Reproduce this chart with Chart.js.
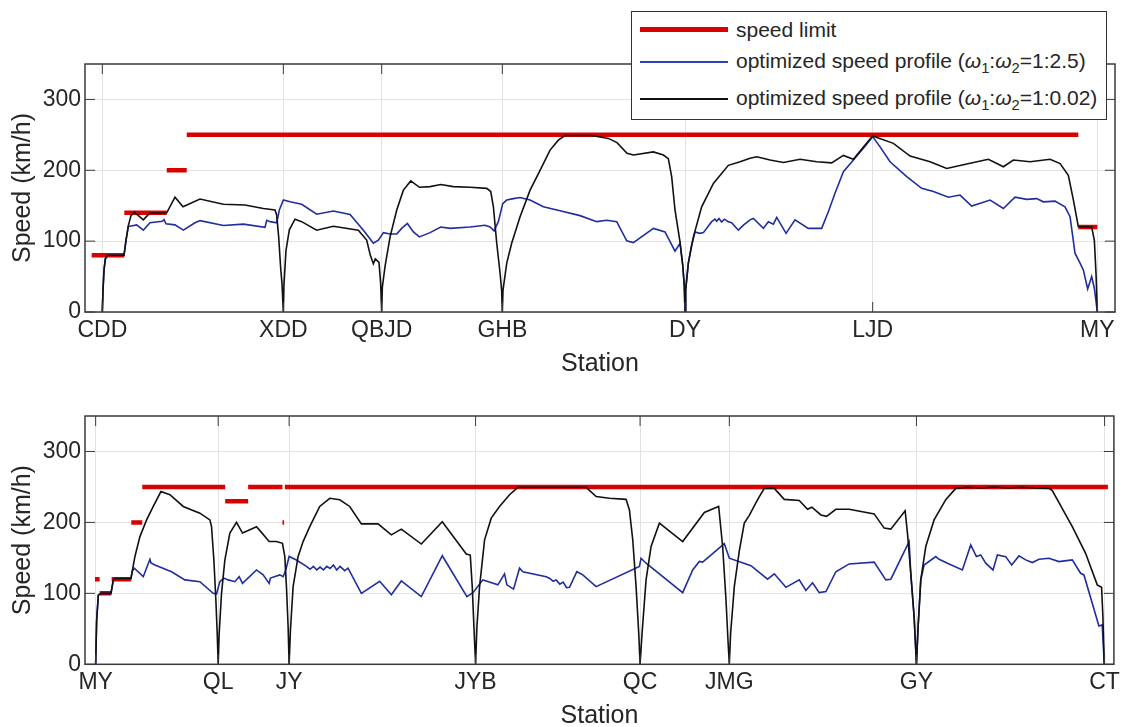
<!DOCTYPE html>
<html>
<head>
<meta charset="utf-8">
<script src="https://cdn.jsdelivr.net/npm/chart.js@4.4.1/dist/chart.umd.min.js"></script>
<style>
  html, body { margin: 0; padding: 0; background: #fff; overflow: hidden; }
  body { width: 1125px; height: 727px; position: relative; font-family: "Liberation Sans", Arial, sans-serif; }
  #topWrap { position: absolute; left: 0; top: 0; width: 1125px; height: 385px; }
  #botWrap { position: absolute; left: 0; top: 370px; width: 1125px; height: 360px; }
  #legend { position: absolute; left: 631px; top: 11px; width: 474px; height: 107px; border: 1.5px solid #333; background: #fff; color: #262626; font-size: 21px; }
  .sample { position: absolute; left: 8px; width: 88px; }
  .label { position: absolute; left: 104px; line-height: 1; white-space: nowrap; }
  .label sub { font-size: 0.7em; vertical-align: -0.35em; line-height: 0; }
</style>
</head>
<body>
<div id="topWrap"><canvas id="topChart" width="1125" height="385"></canvas></div>
<div id="botWrap"><canvas id="botChart" width="1125" height="360"></canvas></div>
<div id="legend">
  <div class="sample" style="top:15px;height:4.5px;background:#d90000"></div>
  <div class="label" style="top:7px">speed limit</div>
  <div class="sample" style="top:49px;height:2px;background:#2f3fc0"></div>
  <div class="label" style="top:38px">optimized speed profile (<i>ω</i><sub>1</sub>:<i>ω</i><sub>2</sub>=1:2.5)</div>
  <div class="sample" style="top:86px;height:2px;background:#111"></div>
  <div class="label" style="top:75px">optimized speed profile (<i>ω</i><sub>1</sub>:<i>ω</i><sub>2</sub>=1:0.02)</div>
</div>
<script>
// ---- upper panel: CDD -> MY (distance in km, speed in km/h)
const topStations = ['CDD', 'XDD', 'QBJD', 'GHB', 'DY', 'LJD', 'MY'];
const topStationKm = [0, 27.15, 41.9, 60.0, 87.4, 115.55, 149.25];

const topLimitStart = [-1.6, 3.3, 9.66, 12.66, 146.4];
const topLimitEnd = [3.3, 9.66, 12.66, 146.4, 149.25];
const topLimitValue = [80, 140, 200, 250, 120];

const topBlackKm = [0, 0.1, 0.25, 0.45, 0.8, 3.25, 3.55, 3.9, 4.3, 4.8, 6.15, 7.1, 9.66, 10.9, 12.1, 14.65, 18.15, 21.4, 24.15, 25.9, 26.15, 26.45, 26.75, 26.95, 27.15,
  27.25, 27.55, 28.05, 28.9, 29.9, 32.15, 34.65, 38.4, 39.65, 40.2, 40.65, 40.95, 41.5, 41.75, 41.9,
  42.0, 42.4, 43.16, 44.16, 45.16, 46.26, 47.56, 49.16, 50.76, 52.66, 55.16, 57.66, 58.26, 58.66, 59.16, 59.66, 59.9, 60.0,
  60.1, 60.66, 61.4, 62.66, 64.16, 65.66, 67.16, 68.4, 69.4, 73.4, 75.9, 77.2, 78.7, 79.66, 82.66, 84.16, 84.9, 85.4, 85.9, 86.65, 87.06, 87.3, 87.4,
  87.5, 87.9, 88.66, 89.9, 91.66, 93.9, 95.66, 97.16, 98.16, 100.16, 102.16, 104.66, 107.16, 109.4, 111.16, 112.66, 114.16, 115.55,
  118.66, 121.16, 124.16, 126.66, 129.66, 132.9, 135.16, 136.66, 139.16, 142.16, 143.66, 144.9, 145.66, 146.4, 148.4, 148.8, 149.05, 149.25];
const topBlackSpeed = [0, 31, 59, 75, 80, 80, 101, 122, 136, 141, 130, 139.5, 140, 162, 148.5, 159.5, 152, 151, 146, 144, 137, 106, 62, 40, 0,
  40, 87, 116, 131, 127.5, 115.5, 121, 115.5, 101.5, 80, 68, 75, 70, 40, 0,
  35, 64, 106, 144, 172, 185, 176, 177, 180, 177, 176, 174.5, 170, 148.5, 97, 55, 30, 0,
  31, 69, 97, 134.5, 172, 200, 228.5, 242.5, 249, 249, 245, 239, 224, 221.5, 226, 221.5, 216.5, 191, 144, 99, 66, 36, 0,
  31, 69, 106, 148.5, 181.5, 207, 212, 217, 219, 214.5, 211, 215.5, 212, 210.5, 221, 215.5, 233, 248.5,
  238, 220, 212, 202.5, 209, 215.5, 205, 214.5, 212, 215.5, 209.5, 193, 158, 120.5, 120, 101.5, 55, 0];

const topBlueKm = [0, 0.1, 0.25, 0.45, 0.8, 3.25, 3.55, 3.9, 4.15, 5.15, 6.15, 7.15, 9.0, 9.25, 9.55, 10.9, 12.15, 13.9, 14.66, 18.16, 21.16, 24.4, 24.66, 25.16, 26.16,
  26.55, 27.16, 28.16, 29.9, 32.16, 34.66, 37.16, 39.16, 40.66, 41.4, 42.16, 43.16, 44.16, 44.9, 45.76, 46.66, 47.56, 49.16, 50.76, 52.16, 55.16, 57.4, 58.16, 58.76,
  59.4, 60.06, 60.66, 61.66, 62.66, 64.16, 66.16, 68.66, 71.66, 74.16, 75.66, 77.16, 78.66, 79.66, 82.66, 84.4, 85.9, 86.65, 87.06, 87.3, 87.4,
  87.5, 87.9, 88.4, 88.9, 89.6, 90.16, 91.4, 91.9, 92.16, 92.5, 92.9, 93.3, 93.9, 94.4, 95.4, 96.16, 97.16, 97.66, 99.16, 99.9, 100.66, 101.16, 102.56, 103.9,
  105.9, 107.9, 108.9, 109.9, 111.16, 112.66, 114.16, 115.55, 116.66, 118.16, 120.66, 122.9, 124.66, 126.9, 128.66, 130.4, 133.16, 135.16, 136.9, 138.66,
  140.16, 141.16, 142.9, 144.4, 145.16, 145.9, 146.66, 147.16, 147.8, 148.4, 148.8, 149.25];
const topBlueSpeed = [0, 31, 59, 75, 80, 80, 101, 121, 121, 123, 115.5, 126, 128, 130.5, 124.5, 123, 115.5, 126, 129, 122, 124, 119.5, 129.5, 127.5, 126,
  144, 158, 155.5, 152, 138, 142.5, 137.5, 115.5, 97, 101.5, 112, 110, 110, 118, 125, 113, 106, 112, 120, 118, 120, 122.5, 120, 114.5,
  127.5, 153, 158, 160, 161.5, 158, 148.5, 143, 136, 127.5, 129.5, 127.5, 100.5, 98, 118, 113, 86, 97, 66, 36, 0,
  31, 69, 95, 113, 111, 112, 127.5, 131, 128, 132, 127, 131, 127.5, 126, 115.5, 122.5, 130, 132, 118, 127.5, 124, 133.5, 111, 130,
  118, 118, 141.5, 167.5, 198, 214.5, 231, 247.5, 233, 212, 191, 174.5, 170, 162, 165, 149.5, 158, 146, 162, 159,
  160, 155.5, 156.5, 148.5, 134.5, 83, 69, 59, 32.5, 50, 33.5, 0];

// ---- lower panel: MY -> CT
const botStations = ['MY', 'QL', 'JY', 'JYB', 'QC', 'JMG', 'GY', 'CT'];
const botStationKm = [0, 18.4, 29.05, 57.05, 81.75, 95.15, 123.25, 151.5];

const botLimitStart = [-0.1, 0.6, 2.4, 5.35, 7.0, 19.45, 22.9, 28.05, 28.4];
const botLimitEnd = [0.6, 2.35, 5.35, 7.0, 19.45, 22.9, 28.05, 28.3, 152.0];
const botLimitValue = [120, 100, 120, 200, 250, 230, 250, 200, 250];

const botBlackKm = [0, 0.15, 0.4, 0.8, 2.3, 2.65, 2.9, 5.3, 5.9, 6.65, 7.65, 8.65, 9.8, 11.15, 13.15, 15.65, 17.15, 17.4, 17.75, 18.05, 18.25, 18.4,
  18.55, 18.9, 19.4, 20.15, 21.15, 22.05, 22.9, 24.15, 24.8, 26.05, 27.15, 28.05, 28.4, 28.65, 28.9, 29.05,
  29.25, 29.65, 30.4, 31.15, 32.15, 33.65, 35.15, 36.65, 38.15, 39.9, 42.4, 44.4, 45.9, 48.9, 52.05, 55.65, 56.25, 56.55, 56.8, 57.05,
  57.25, 57.65, 58.4, 59.4, 60.65, 62.15, 63.4, 73.65, 75.15, 77.15, 79.65, 80.15, 80.65, 81.15, 81.55, 81.75,
  82.05, 82.65, 83.4, 84.65, 88.15, 91.4, 93.55, 94.15, 94.65, 94.95, 95.15,
  95.35, 95.9, 96.65, 97.4, 98.15, 99.4, 100.4, 101.9, 103.4, 105.65, 106.9, 107.55, 108.9, 109.75, 111.15, 113.15, 116.9, 118.4, 119.4, 121.55, 121.9, 122.4, 122.9, 123.25,
  123.5, 123.9, 124.65, 125.9, 127.65, 129.15, 131, 133, 135, 137, 139, 141, 143.15, 143.65, 146.65, 148.65, 150.4, 151.05, 151.25, 151.45];
const botBlackSpeed = [0, 62, 97.5, 100, 100, 119, 121, 121, 152, 180, 203.5, 222.5, 243.5, 239, 222.5, 213, 203.5, 194, 147, 91, 44, 0,
  44, 100, 147, 185, 200, 185, 188.5, 194, 187, 173, 173, 170.5, 152, 109.5, 53, 0,
  48, 109.5, 152, 173, 194, 222.5, 234, 232, 222.5, 198, 198, 182.5, 190.5, 169.5, 201, 155.5, 154, 109.5, 53, 0,
  53, 109.5, 175.5, 206, 222.5, 239, 249.5, 249.5, 236.5, 234, 232.5, 217.5, 175.5, 109.5, 44, 0,
  44, 119, 166, 199, 173, 214, 222.5, 166, 91, 34, 0,
  44, 109.5, 160, 199, 210, 232, 248, 248, 232.5, 231, 218.5, 221.5, 210.5, 208.5, 218.5, 218.5, 212, 192, 190.5, 216.5, 185, 128, 67, 0,
  53, 119, 166, 203.5, 232, 248, 249.5, 248.5, 250, 248.5, 249.5, 248.5, 248, 245, 194, 156.5, 112, 108.5, 67, 0];

const botBlueKm = [0, 0.15, 0.4, 0.8, 2.3, 2.65, 2.9, 5.3, 5.5, 5.8, 7.15, 8.15, 8.3, 8.9, 11.4, 13.4, 15.65, 17.65, 18.15, 18.65, 19.25, 19.9, 20.9, 21.55, 22.05,
  24.15, 25.15, 26.05, 26.25, 27.65, 28.15, 28.55, 29.05, 30.15, 31.65, 32.2, 32.7, 33.2, 33.7, 34.2, 34.7, 35.2, 35.7, 36.2, 36.7, 37.4, 37.9, 39.9,
  42.65, 44.4, 45.9, 48.9, 52.05, 55.75, 56.65, 58.15, 60.4, 61.4, 61.75, 62.75, 63.65, 64.15, 67.65, 68.2, 68.7, 69.15, 69.7, 70.2, 70.7, 71.15, 72.25, 73.15, 75.15,
  81.65, 81.9, 82.65, 88.15, 89.65, 90.65, 91.15, 94.4, 95.15, 98.4, 100.9, 101.9, 103.65, 105.65, 106.65, 107.65, 108.65, 109.65, 111.15, 113.15, 116.9, 118.65, 119.4,
  122.15, 122.4, 122.9, 123.25, 123.5, 123.9, 124.4, 126.15, 126.65, 128.15, 130.15, 131.4, 132.25, 132.9, 133.65, 134.75, 135.4, 136.65, 137.55, 138.65, 139.65,
  140.65, 141.65, 143.15, 144.65, 146.65, 147.9, 148.4, 150.65, 151.15, 151.45];
const botBlueSpeed = [0, 62, 97.5, 100, 100, 119, 121, 121, 131, 135.5, 123.5, 148, 143, 140, 130.5, 119, 116.5, 100, 99, 116.5, 121.5, 119, 116.5, 123.5, 114,
  133, 126, 114, 121.5, 126, 123.5, 133, 152, 147, 138, 134, 138, 133, 137, 133, 138, 135, 140, 133, 138, 132, 135.5, 100,
  117, 98, 117.5, 95.5, 153, 95.5, 101, 119, 112, 127.5, 112, 106, 135.5, 130.5, 123.5, 121, 117, 119, 113, 116, 108, 108.5, 130.5, 126, 109.5,
  138, 149.5, 142.5, 101, 133, 145, 144, 170, 149.5, 139, 120, 127.5, 108.5, 119, 104, 115, 101, 102.5, 130.5, 141.5, 144, 119, 120,
  173, 128, 67, 0, 53, 119, 140, 151.8, 148, 141.5, 133, 168.3, 151.8, 154.2, 142.5, 133, 154.2, 151.8, 140.1, 152.8, 147.2,
  143.4, 148, 149.5, 144.8, 147.2, 128.3, 126, 54, 55.5, 0];

function pairs(xs, ys) {
  return xs.map((x, i) => ({ x: x, y: ys[i] }));
}

// separate horizontal pieces, broken with null gaps
function limitSegments(starts, ends, values) {
  const out = [];
  starts.forEach((s, i) => {
    out.push({ x: s, y: values[i] }, { x: ends[i], y: values[i] }, { x: ends[i], y: null });
  });
  return out;
}

const textColor = '#262626';
const gridColor = '#e2e2e2';

// MATLAB style axes box with inward ticks
const boxPlugin = {
  id: 'boxPlugin',
  afterDatasetsDraw(chart) {
    const { ctx, chartArea: a, scales } = chart;
    ctx.save();
    ctx.strokeStyle = '#3a3a3a';
    ctx.lineWidth = 1;
    ctx.beginPath();
    scales.x.ticks.forEach(t => {
      const px = scales.x.getPixelForValue(t.value);
      ctx.moveTo(px, a.top); ctx.lineTo(px, a.top + 10);
      ctx.moveTo(px, a.bottom); ctx.lineTo(px, a.bottom - 10);
    });
    scales.y.ticks.forEach(t => {
      const py = scales.y.getPixelForValue(t.value);
      ctx.moveTo(a.left, py); ctx.lineTo(a.left + 10, py);
      ctx.moveTo(a.right, py); ctx.lineTo(a.right - 10, py);
    });
    ctx.stroke();
    ctx.lineWidth = 1.5;
    ctx.strokeRect(a.left, a.top, a.right - a.left, a.bottom - a.top);
    ctx.restore();
  }
};

function makeChart(id, cfg) {
  const ctx = document.getElementById(id).getContext('2d');
  return new Chart(ctx, {
    type: 'line',
    data: {
      datasets: [
        {
          label: 'optimized speed profile (1:0.02)',
          data: pairs(cfg.blackKm, cfg.blackSpeed),
          borderColor: '#111111',
          borderWidth: 1.6,
          order: 1
        },
        {
          label: 'optimized speed profile (1:2.5)',
          data: pairs(cfg.blueKm, cfg.blueSpeed),
          borderColor: '#1f2d9e',
          borderWidth: 1.6,
          order: 2
        },
        {
          label: 'speed limit',
          data: limitSegments(cfg.limStart, cfg.limEnd, cfg.limValue),
          borderColor: '#d90000',
          borderWidth: 4.5,
          borderCapStyle: 'butt',
          spanGaps: false,
          order: 3
        }
      ]
    },
    options: {
      responsive: false,
      animation: false,
      devicePixelRatio: 1,
      layout: { padding: cfg.padding },
      elements: { point: { radius: 0 }, line: { tension: 0 } },
      plugins: { legend: { display: false }, tooltip: { enabled: false } },
      scales: {
        x: {
          type: 'linear',
          min: cfg.xMin,
          max: cfg.xMax,
          afterBuildTicks: s => { s.ticks = cfg.stationKm.map(v => ({ value: v })); },
          afterFit: s => { s.height = 64.5; },
          border: { display: false },
          grid: { color: gridColor, drawTicks: false },
          ticks: {
            autoSkip: false,
            maxRotation: 0,
            padding: 5,
            color: textColor,
            font: { family: 'Liberation Sans', size: 23 },
            callback: (v, i) => cfg.stations[i]
          },
          title: {
            display: true,
            text: 'Station',
            color: textColor,
            padding: { top: 0, bottom: 0 },
            font: { family: 'Liberation Sans', size: 25, lineHeight: 1 }
          }
        },
        y: {
          min: 0,
          max: 350,
          afterBuildTicks: s => { s.ticks = [0, 100, 200, 300].map(v => ({ value: v })); },
          afterFit: s => { s.width = 85; },
          border: { display: false },
          grid: { color: gridColor, drawTicks: false },
          ticks: {
            padding: 4,
            color: textColor,
            font: { family: 'Liberation Sans', size: 23 }
          },
          title: {
            display: true,
            text: 'Speed (km/h)',
            color: textColor,
            padding: { top: 10.5, bottom: 0 },
            font: { family: 'Liberation Sans', size: 25, lineHeight: 1 }
          }
        }
      }
    },
    plugins: [boxPlugin]
  });
}

makeChart('topChart', {
  stations: topStations, stationKm: topStationKm,
  xMin: -2.6, xMax: 151.9,
  limStart: topLimitStart, limEnd: topLimitEnd, limValue: topLimitValue,
  blackKm: topBlackKm, blackSpeed: topBlackSpeed,
  blueKm: topBlueKm, blueSpeed: topBlueSpeed,
  padding: { top: 64, right: 10, bottom: 8.5, left: 0 }
});

makeChart('botChart', {
  stations: botStations, stationKm: botStationKm,
  xMin: -1.6, xMax: 152.9,
  limStart: botLimitStart, limEnd: botLimitEnd, limValue: botLimitValue,
  blackKm: botBlackKm, blackSpeed: botBlackSpeed,
  blueKm: botBlueKm, blueSpeed: botBlueSpeed,
  padding: { top: 46, right: 10, bottom: 1.2, left: 0 }
});
</script>
</body>
</html>
